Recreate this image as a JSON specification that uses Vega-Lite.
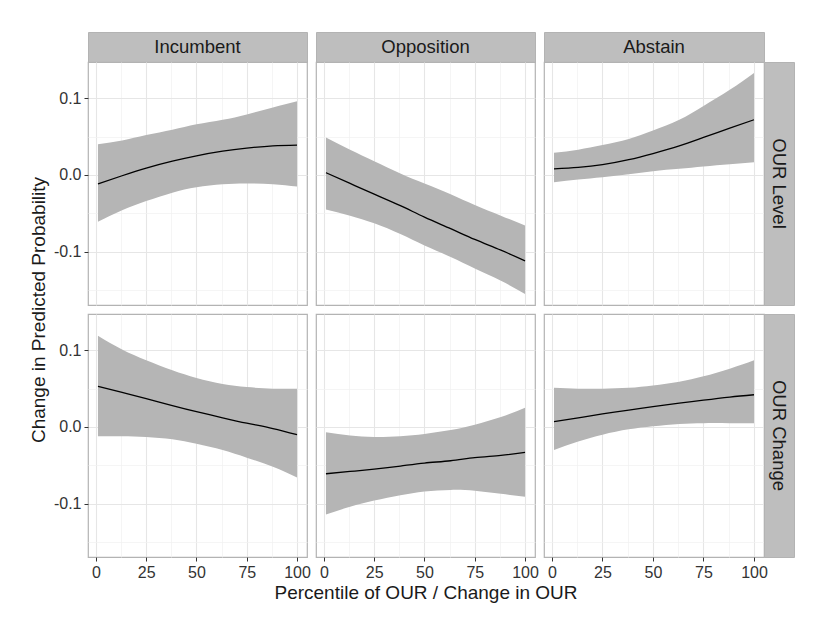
{
  "$schema": "https://vega.github.io/schema/vega-lite/v6.json",
  "padding": {"left": 28, "top": 31, "right": 5, "bottom": 5},
  "background": "white",
  "datasets": {
    "curves": [
      {"r":"OUR Level","p":"Incumbent","x":1,"fit":-0.0117,"lo":-0.061,"hi":0.040},
      {"r":"OUR Level","p":"Incumbent","x":13,"fit":-0.001,"lo":-0.046,"hi":0.045},
      {"r":"OUR Level","p":"Incumbent","x":25,"fit":0.009,"lo":-0.034,"hi":0.052},
      {"r":"OUR Level","p":"Incumbent","x":38,"fit":0.018,"lo":-0.023,"hi":0.059},
      {"r":"OUR Level","p":"Incumbent","x":50,"fit":0.025,"lo":-0.016,"hi":0.066},
      {"r":"OUR Level","p":"Incumbent","x":63,"fit":0.031,"lo":-0.012,"hi":0.072},
      {"r":"OUR Level","p":"Incumbent","x":75,"fit":0.035,"lo":-0.011,"hi":0.079},
      {"r":"OUR Level","p":"Incumbent","x":88,"fit":0.038,"lo":-0.012,"hi":0.088},
      {"r":"OUR Level","p":"Incumbent","x":100,"fit":0.039,"lo":-0.015,"hi":0.096},
      {"r":"OUR Level","p":"Opposition","x":1,"fit":0.003,"lo":-0.045,"hi":0.049},
      {"r":"OUR Level","p":"Opposition","x":13,"fit":-0.011,"lo":-0.053,"hi":0.033},
      {"r":"OUR Level","p":"Opposition","x":25,"fit":-0.025,"lo":-0.063,"hi":0.018},
      {"r":"OUR Level","p":"Opposition","x":38,"fit":-0.040,"lo":-0.077,"hi":0.002},
      {"r":"OUR Level","p":"Opposition","x":50,"fit":-0.055,"lo":-0.092,"hi":-0.011},
      {"r":"OUR Level","p":"Opposition","x":63,"fit":-0.070,"lo":-0.107,"hi":-0.025},
      {"r":"OUR Level","p":"Opposition","x":75,"fit":-0.084,"lo":-0.122,"hi":-0.039},
      {"r":"OUR Level","p":"Opposition","x":88,"fit":-0.098,"lo":-0.138,"hi":-0.053},
      {"r":"OUR Level","p":"Opposition","x":100,"fit":-0.112,"lo":-0.155,"hi":-0.066},
      {"r":"OUR Level","p":"Abstain","x":1,"fit":0.008,"lo":-0.0095,"hi":0.029},
      {"r":"OUR Level","p":"Abstain","x":13,"fit":0.010,"lo":-0.006,"hi":0.033},
      {"r":"OUR Level","p":"Abstain","x":25,"fit":0.0135,"lo":-0.003,"hi":0.039},
      {"r":"OUR Level","p":"Abstain","x":38,"fit":0.020,"lo":0.001,"hi":0.047},
      {"r":"OUR Level","p":"Abstain","x":50,"fit":0.028,"lo":0.005,"hi":0.058},
      {"r":"OUR Level","p":"Abstain","x":63,"fit":0.038,"lo":0.008,"hi":0.072},
      {"r":"OUR Level","p":"Abstain","x":75,"fit":0.049,"lo":0.011,"hi":0.090},
      {"r":"OUR Level","p":"Abstain","x":88,"fit":0.061,"lo":0.014,"hi":0.111},
      {"r":"OUR Level","p":"Abstain","x":100,"fit":0.072,"lo":0.0165,"hi":0.133},
      {"r":"OUR Change","p":"Incumbent","x":1,"fit":0.053,"lo":-0.012,"hi":0.119},
      {"r":"OUR Change","p":"Incumbent","x":13,"fit":0.045,"lo":-0.012,"hi":0.101},
      {"r":"OUR Change","p":"Incumbent","x":25,"fit":0.037,"lo":-0.013,"hi":0.087},
      {"r":"OUR Change","p":"Incumbent","x":38,"fit":0.028,"lo":-0.016,"hi":0.074},
      {"r":"OUR Change","p":"Incumbent","x":50,"fit":0.020,"lo":-0.022,"hi":0.064},
      {"r":"OUR Change","p":"Incumbent","x":63,"fit":0.012,"lo":-0.030,"hi":0.056},
      {"r":"OUR Change","p":"Incumbent","x":75,"fit":0.005,"lo":-0.040,"hi":0.052},
      {"r":"OUR Change","p":"Incumbent","x":88,"fit":-0.002,"lo":-0.052,"hi":0.050},
      {"r":"OUR Change","p":"Incumbent","x":100,"fit":-0.010,"lo":-0.066,"hi":0.050},
      {"r":"OUR Change","p":"Opposition","x":1,"fit":-0.061,"lo":-0.114,"hi":-0.007},
      {"r":"OUR Change","p":"Opposition","x":13,"fit":-0.058,"lo":-0.104,"hi":-0.011},
      {"r":"OUR Change","p":"Opposition","x":25,"fit":-0.055,"lo":-0.096,"hi":-0.013},
      {"r":"OUR Change","p":"Opposition","x":38,"fit":-0.051,"lo":-0.089,"hi":-0.012},
      {"r":"OUR Change","p":"Opposition","x":50,"fit":-0.047,"lo":-0.084,"hi":-0.009},
      {"r":"OUR Change","p":"Opposition","x":63,"fit":-0.044,"lo":-0.082,"hi":-0.004},
      {"r":"OUR Change","p":"Opposition","x":75,"fit":-0.040,"lo":-0.083,"hi":0.003},
      {"r":"OUR Change","p":"Opposition","x":88,"fit":-0.037,"lo":-0.087,"hi":0.013},
      {"r":"OUR Change","p":"Opposition","x":100,"fit":-0.033,"lo":-0.091,"hi":0.025},
      {"r":"OUR Change","p":"Abstain","x":1,"fit":0.007,"lo":-0.030,"hi":0.051},
      {"r":"OUR Change","p":"Abstain","x":13,"fit":0.012,"lo":-0.019,"hi":0.050},
      {"r":"OUR Change","p":"Abstain","x":25,"fit":0.017,"lo":-0.010,"hi":0.050},
      {"r":"OUR Change","p":"Abstain","x":38,"fit":0.022,"lo":-0.003,"hi":0.051},
      {"r":"OUR Change","p":"Abstain","x":50,"fit":0.0265,"lo":0.001,"hi":0.054},
      {"r":"OUR Change","p":"Abstain","x":63,"fit":0.031,"lo":0.004,"hi":0.059},
      {"r":"OUR Change","p":"Abstain","x":75,"fit":0.035,"lo":0.005,"hi":0.066},
      {"r":"OUR Change","p":"Abstain","x":88,"fit":0.039,"lo":0.005,"hi":0.076},
      {"r":"OUR Change","p":"Abstain","x":100,"fit":0.042,"lo":0.005,"hi":0.087}
    ]
  },
  "columns": 6,
  "spacing": {"row": 0, "column": 0},
  "bounds": "flush",
  "align": "each",
  "concat": [
    {"width":219,"height":30,"data":{"values":[{"t":"Incumbent"}]},"mark":{"type":"text","fontSize":18.5,"color":"#1a1a1a"},"encoding":{"text":{"field":"t"}},"view":{"fill":"#bebebe","stroke":"#b3b3b3"}},
    {"width":9,"height":1,"data":{"values":[]},"mark":"point"},
    {"width":219,"height":30,"data":{"values":[{"t":"Opposition"}]},"mark":{"type":"text","fontSize":18.5,"color":"#1a1a1a"},"encoding":{"text":{"field":"t"}},"view":{"fill":"#bebebe","stroke":"#b3b3b3"}},
    {"width":9,"height":1,"data":{"values":[]},"mark":"point"},
    {"width":220,"height":30,"data":{"values":[{"t":"Abstain"}]},"mark":{"type":"text","fontSize":18.5,"color":"#1a1a1a"},"encoding":{"text":{"field":"t"}},"view":{"fill":"#bebebe","stroke":"#b3b3b3"}},
    {"width":1,"height":1,"data":{"values":[]},"mark":"point"},

    {"width":219,"height":243,"view":{"stroke":"#b3b3b3","strokeWidth":1.2},"data":{"name":"curves"},
     "transform":[{"filter":"datum.r === 'OUR Level' && datum.p === 'Incumbent'"}],
     "layer":[
      {"mark":{"type":"area","color":"#b5b5b5","interpolate":"natural"},
       "encoding":{
        "x":{"field":"x","type":"quantitative","scale":{"domain":[-3.95,104.95],"nice":false,"zero":false},"axis":{"values":[12.5,37.5,62.5,87.5],"labels":false,"ticks":false,"title":null,"grid":true,"gridColor":"#f0f0f0","gridWidth":0.7,"orient":"bottom"}},
        "y":{"field":"lo","type":"quantitative","scale":{"domain":[-0.1695,0.1473],"nice":false,"zero":false},"axis":{"values":[-0.15,-0.05,0.05],"labels":false,"ticks":false,"title":null,"grid":true,"gridColor":"#f0f0f0","gridWidth":0.7,"orient":"left"}},
        "y2":{"field":"hi"}}},
      {"mark":{"type":"line","color":"#000000","strokeWidth":1.3,"interpolate":"natural"},
       "encoding":{
        "x":{"field":"x","type":"quantitative","scale":{"domain":[-3.95,104.95],"nice":false,"zero":false},"axis":{"values":[0,25,50,75,100],"labels":false,"ticks":false,"title":null,"grid":true,"gridColor":"#e6e6e6","gridWidth":1.1,"orient":"bottom"}},
        "y":{"field":"fit","type":"quantitative","scale":{"domain":[-0.1695,0.1473],"nice":false,"zero":false},"axis":{"values":[-0.1,0,0.1],"labelExpr":"datum.value < 0 ? '-' + format(-datum.value, '.1f') : format(datum.value, '.1f')","grid":true,"gridColor":"#e6e6e6","gridWidth":1.1,"orient":"left","title":"Change in Predicted Probability","titleY":247.5,"titlePadding":5}}}}
     ],
     "resolve":{"axis":{"x":"independent","y":"independent"}}},
    {"width":9,"height":1,"data":{"values":[]},"mark":"point"},
    {"width":219,"height":243,"view":{"stroke":"#b3b3b3","strokeWidth":1.2},"data":{"name":"curves"},
     "transform":[{"filter":"datum.r === 'OUR Level' && datum.p === 'Opposition'"}],
     "layer":[
      {"mark":{"type":"area","color":"#b5b5b5","interpolate":"natural"},
       "encoding":{
        "x":{"field":"x","type":"quantitative","scale":{"domain":[-3.95,104.95],"nice":false,"zero":false},"axis":{"values":[12.5,37.5,62.5,87.5],"labels":false,"ticks":false,"title":null,"grid":true,"gridColor":"#f0f0f0","gridWidth":0.7,"orient":"bottom"}},
        "y":{"field":"lo","type":"quantitative","scale":{"domain":[-0.1695,0.1473],"nice":false,"zero":false},"axis":{"values":[-0.15,-0.05,0.05],"labels":false,"ticks":false,"title":null,"grid":true,"gridColor":"#f0f0f0","gridWidth":0.7,"orient":"left"}},
        "y2":{"field":"hi"}}},
      {"mark":{"type":"line","color":"#000000","strokeWidth":1.3,"interpolate":"natural"},
       "encoding":{
        "x":{"field":"x","type":"quantitative","scale":{"domain":[-3.95,104.95],"nice":false,"zero":false},"axis":{"values":[0,25,50,75,100],"labels":false,"ticks":false,"title":null,"grid":true,"gridColor":"#e6e6e6","gridWidth":1.1,"orient":"bottom"}},
        "y":{"field":"fit","type":"quantitative","scale":{"domain":[-0.1695,0.1473],"nice":false,"zero":false},"axis":{"values":[-0.1,0,0.1],"labels":false,"ticks":false,"title":null,"grid":true,"gridColor":"#e6e6e6","gridWidth":1.1,"orient":"left"}}}}
     ],
     "resolve":{"axis":{"x":"independent","y":"independent"}}},
    {"width":9,"height":1,"data":{"values":[]},"mark":"point"},
    {"width":220,"height":243,"view":{"stroke":"#b3b3b3","strokeWidth":1.2},"data":{"name":"curves"},
     "transform":[{"filter":"datum.r === 'OUR Level' && datum.p === 'Abstain'"}],
     "layer":[
      {"mark":{"type":"area","color":"#b5b5b5","interpolate":"natural"},
       "encoding":{
        "x":{"field":"x","type":"quantitative","scale":{"domain":[-3.95,104.95],"nice":false,"zero":false},"axis":{"values":[12.5,37.5,62.5,87.5],"labels":false,"ticks":false,"title":null,"grid":true,"gridColor":"#f0f0f0","gridWidth":0.7,"orient":"bottom"}},
        "y":{"field":"lo","type":"quantitative","scale":{"domain":[-0.1695,0.1473],"nice":false,"zero":false},"axis":{"values":[-0.15,-0.05,0.05],"labels":false,"ticks":false,"title":null,"grid":true,"gridColor":"#f0f0f0","gridWidth":0.7,"orient":"left"}},
        "y2":{"field":"hi"}}},
      {"mark":{"type":"line","color":"#000000","strokeWidth":1.3,"interpolate":"natural"},
       "encoding":{
        "x":{"field":"x","type":"quantitative","scale":{"domain":[-3.95,104.95],"nice":false,"zero":false},"axis":{"values":[0,25,50,75,100],"labels":false,"ticks":false,"title":null,"grid":true,"gridColor":"#e6e6e6","gridWidth":1.1,"orient":"bottom"}},
        "y":{"field":"fit","type":"quantitative","scale":{"domain":[-0.1695,0.1473],"nice":false,"zero":false},"axis":{"values":[-0.1,0,0.1],"labels":false,"ticks":false,"title":null,"grid":true,"gridColor":"#e6e6e6","gridWidth":1.1,"orient":"left"}}}}
     ],
     "resolve":{"axis":{"x":"independent","y":"independent"}}},
    {"width":30,"height":243,"data":{"values":[{"t":"OUR Level"}]},"mark":{"type":"text","fontSize":18.5,"color":"#1a1a1a","angle":90},"encoding":{"text":{"field":"t"}},"view":{"fill":"#bebebe","stroke":"#b3b3b3"}},

    {"width":1,"height":9,"data":{"values":[]},"mark":"point"},
    {"width":1,"height":9,"data":{"values":[]},"mark":"point"},
    {"width":1,"height":9,"data":{"values":[]},"mark":"point"},
    {"width":1,"height":9,"data":{"values":[]},"mark":"point"},
    {"width":1,"height":9,"data":{"values":[]},"mark":"point"},
    {"width":1,"height":9,"data":{"values":[]},"mark":"point"},

    {"width":219,"height":243,"view":{"stroke":"#b3b3b3","strokeWidth":1.2},"data":{"name":"curves"},
     "transform":[{"filter":"datum.r === 'OUR Change' && datum.p === 'Incumbent'"}],
     "layer":[
      {"mark":{"type":"area","color":"#b5b5b5","interpolate":"natural"},
       "encoding":{
        "x":{"field":"x","type":"quantitative","scale":{"domain":[-3.95,104.95],"nice":false,"zero":false},"axis":{"values":[12.5,37.5,62.5,87.5],"labels":false,"ticks":false,"title":null,"grid":true,"gridColor":"#f0f0f0","gridWidth":0.7,"orient":"bottom"}},
        "y":{"field":"lo","type":"quantitative","scale":{"domain":[-0.1695,0.1473],"nice":false,"zero":false},"axis":{"values":[-0.15,-0.05,0.05],"labels":false,"ticks":false,"title":null,"grid":true,"gridColor":"#f0f0f0","gridWidth":0.7,"orient":"left"}},
        "y2":{"field":"hi"}}},
      {"mark":{"type":"line","color":"#000000","strokeWidth":1.3,"interpolate":"natural"},
       "encoding":{
        "x":{"field":"x","type":"quantitative","scale":{"domain":[-3.95,104.95],"nice":false,"zero":false},"axis":{"values":[0,25,50,75,100],"title":null,"grid":true,"gridColor":"#e6e6e6","gridWidth":1.1,"orient":"bottom"}},
        "y":{"field":"fit","type":"quantitative","scale":{"domain":[-0.1695,0.1473],"nice":false,"zero":false},"axis":{"values":[-0.1,0,0.1],"labelExpr":"datum.value < 0 ? '-' + format(-datum.value, '.1f') : format(datum.value, '.1f')","grid":true,"gridColor":"#e6e6e6","gridWidth":1.1,"orient":"left","title":null}}}}
     ],
     "resolve":{"axis":{"x":"independent","y":"independent"}}},
    {"width":9,"height":1,"data":{"values":[]},"mark":"point"},
    {"width":219,"height":243,"view":{"stroke":"#b3b3b3","strokeWidth":1.2},"data":{"name":"curves"},
     "transform":[{"filter":"datum.r === 'OUR Change' && datum.p === 'Opposition'"}],
     "layer":[
      {"mark":{"type":"area","color":"#b5b5b5","interpolate":"natural"},
       "encoding":{
        "x":{"field":"x","type":"quantitative","scale":{"domain":[-3.95,104.95],"nice":false,"zero":false},"axis":{"values":[12.5,37.5,62.5,87.5],"labels":false,"ticks":false,"title":null,"grid":true,"gridColor":"#f0f0f0","gridWidth":0.7,"orient":"bottom"}},
        "y":{"field":"lo","type":"quantitative","scale":{"domain":[-0.1695,0.1473],"nice":false,"zero":false},"axis":{"values":[-0.15,-0.05,0.05],"labels":false,"ticks":false,"title":null,"grid":true,"gridColor":"#f0f0f0","gridWidth":0.7,"orient":"left"}},
        "y2":{"field":"hi"}}},
      {"mark":{"type":"line","color":"#000000","strokeWidth":1.3,"interpolate":"natural"},
       "encoding":{
        "x":{"field":"x","type":"quantitative","scale":{"domain":[-3.95,104.95],"nice":false,"zero":false},"axis":{"values":[0,25,50,75,100],"title":"Percentile of OUR / Change in OUR","titlePadding":3,"grid":true,"gridColor":"#e6e6e6","gridWidth":1.1,"orient":"bottom"}},
        "y":{"field":"fit","type":"quantitative","scale":{"domain":[-0.1695,0.1473],"nice":false,"zero":false},"axis":{"values":[-0.1,0,0.1],"labels":false,"ticks":false,"title":null,"grid":true,"gridColor":"#e6e6e6","gridWidth":1.1,"orient":"left"}}}}
     ],
     "resolve":{"axis":{"x":"independent","y":"independent"}}},
    {"width":9,"height":1,"data":{"values":[]},"mark":"point"},
    {"width":220,"height":243,"view":{"stroke":"#b3b3b3","strokeWidth":1.2},"data":{"name":"curves"},
     "transform":[{"filter":"datum.r === 'OUR Change' && datum.p === 'Abstain'"}],
     "layer":[
      {"mark":{"type":"area","color":"#b5b5b5","interpolate":"natural"},
       "encoding":{
        "x":{"field":"x","type":"quantitative","scale":{"domain":[-3.95,104.95],"nice":false,"zero":false},"axis":{"values":[12.5,37.5,62.5,87.5],"labels":false,"ticks":false,"title":null,"grid":true,"gridColor":"#f0f0f0","gridWidth":0.7,"orient":"bottom"}},
        "y":{"field":"lo","type":"quantitative","scale":{"domain":[-0.1695,0.1473],"nice":false,"zero":false},"axis":{"values":[-0.15,-0.05,0.05],"labels":false,"ticks":false,"title":null,"grid":true,"gridColor":"#f0f0f0","gridWidth":0.7,"orient":"left"}},
        "y2":{"field":"hi"}}},
      {"mark":{"type":"line","color":"#000000","strokeWidth":1.3,"interpolate":"natural"},
       "encoding":{
        "x":{"field":"x","type":"quantitative","scale":{"domain":[-3.95,104.95],"nice":false,"zero":false},"axis":{"values":[0,25,50,75,100],"title":null,"grid":true,"gridColor":"#e6e6e6","gridWidth":1.1,"orient":"bottom"}},
        "y":{"field":"fit","type":"quantitative","scale":{"domain":[-0.1695,0.1473],"nice":false,"zero":false},"axis":{"values":[-0.1,0,0.1],"labels":false,"ticks":false,"title":null,"grid":true,"gridColor":"#e6e6e6","gridWidth":1.1,"orient":"left"}}}}
     ],
     "resolve":{"axis":{"x":"independent","y":"independent"}}},
    {"width":30,"height":243,"data":{"values":[{"t":"OUR Change"}]},"mark":{"type":"text","fontSize":18.5,"color":"#1a1a1a","angle":90},"encoding":{"text":{"field":"t"}},"view":{"fill":"#bebebe","stroke":"#b3b3b3"}}
  ],
  "config": {
    "font": "Liberation Sans",
    "view": {"stroke": null},
    "axis": {"domain": false, "labelFontSize": 16, "labelColor": "#333333", "tickColor": "#333333", "tickSize": 4, "labelPadding": 3, "titleFontSize": 19, "titleFontWeight": "normal", "titleColor": "#1a1a1a", "labelFlush": false}
  }
}
